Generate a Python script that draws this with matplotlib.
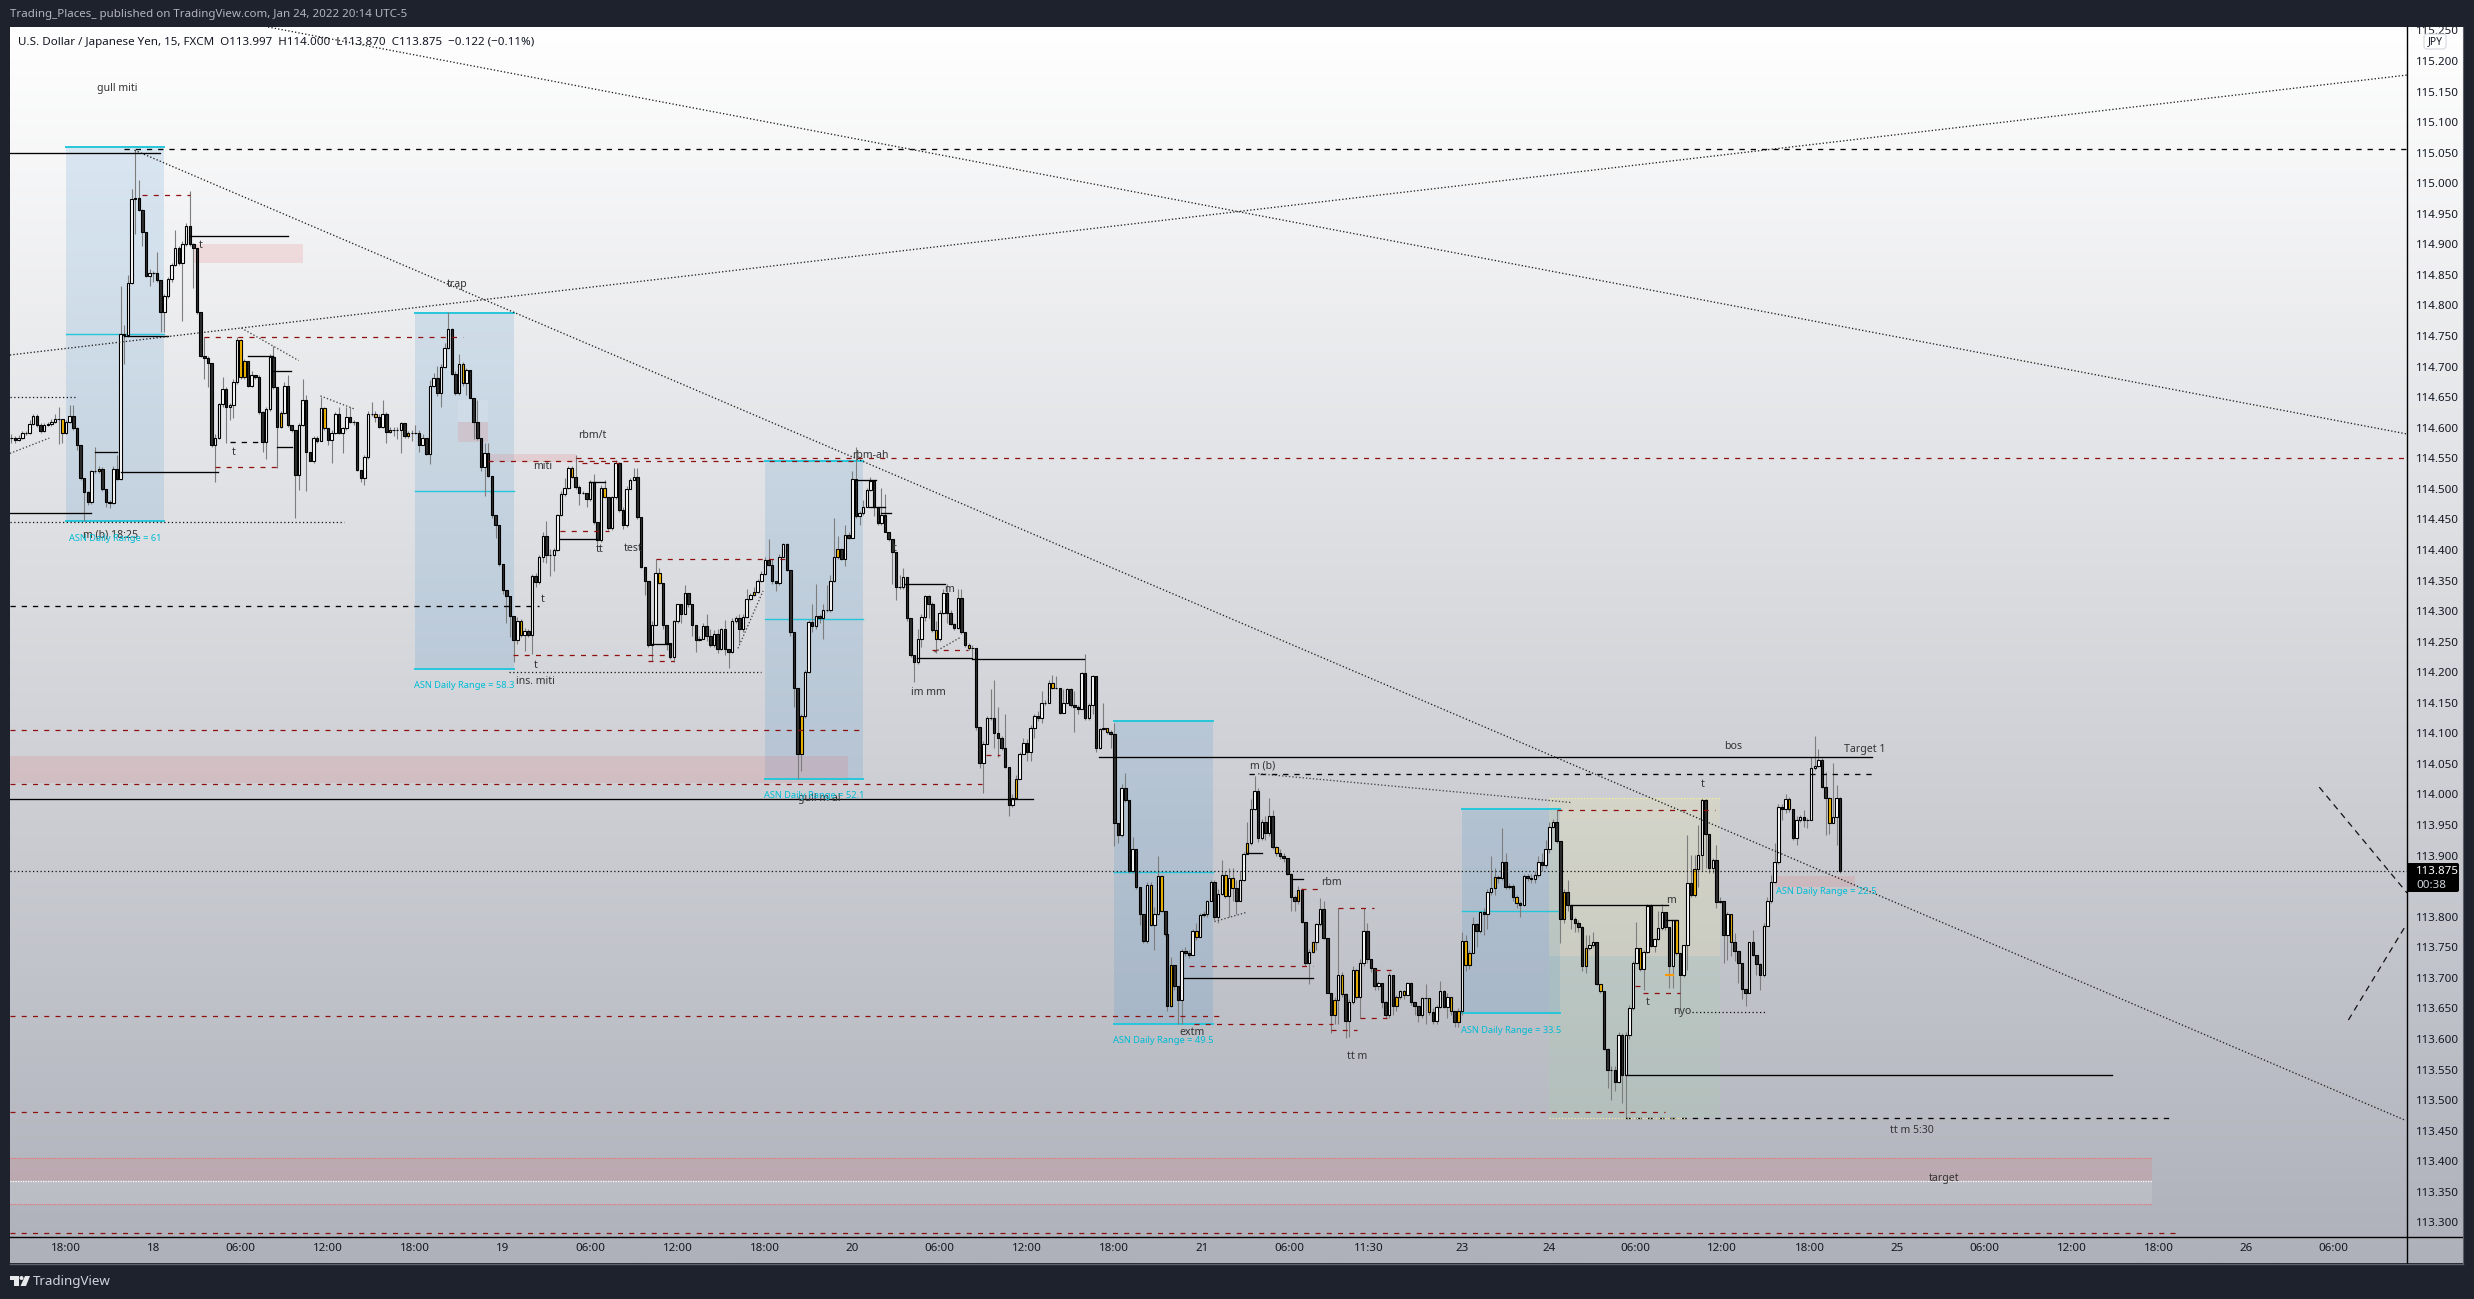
import numpy as np
import matplotlib
matplotlib.use("Agg")
import matplotlib.pyplot as plt
from matplotlib.patches import Rectangle, FancyBboxPatch, Polygon, Circle
from matplotlib.lines import Line2D
from matplotlib.transforms import Affine2D

plt.rcParams['font.family'] = ['Noto Sans', 'DejaVu Sans']
W, H = 2474, 1299

# ------------------ candles, 15-minute bars ------------------
start_a = -15
closes_a = [114.584,114.580,114.584,114.591,114.591,114.606,114.619,114.605,114.594,114.605,
 114.606,114.610,114.615,114.615,114.592,114.609,114.620,114.600,114.572,114.517,
 114.495,114.479,114.530,114.530,114.533,114.499,114.479,114.477,114.533,114.516,
 114.754,114.751,114.837,114.974,114.976,114.957,114.920,114.849,114.853,114.853,
 114.841,114.790,114.815,114.844,114.866,114.894,114.870,114.901,114.930,114.901,
 114.894,114.789,114.717,114.714,114.706,114.571,114.584,114.638,114.663,114.634,
 114.637,114.675,114.743,114.683,114.709,114.668,114.687,114.683,114.626,114.576,
 114.630,114.715,114.666,114.602,114.624,114.669,114.605,114.596,114.523,114.605,
 114.645,114.561,114.546,114.584,114.579,114.632,114.599,114.580,114.592,114.623,
 114.592,114.599,114.617,114.610,114.610,114.531,114.518,114.552,114.623,114.623,
 114.618,114.602,114.622,114.593,114.597,114.597,114.597,114.607,114.586,114.591,
 114.591,114.592,114.572,114.584,114.557,114.669,114.682,114.657,114.700,114.730,
 114.762,114.688,114.657,114.705,114.673,114.694,114.649,114.610,114.584,114.536,
 114.558,114.521,114.457,114.441]
highs_a = [114.590,114.586,114.588,114.594,114.594,114.613,114.622,114.622,114.607,114.607,
 114.609,114.615,114.622,114.634,114.613,114.613,114.637,114.637,114.602,114.572,
 114.517,114.496,114.531,114.569,114.537,114.535,114.499,114.482,114.537,114.555,
 114.832,114.768,114.850,114.990,115.054,115.005,114.958,114.920,114.859,114.856,
 114.888,114.841,114.818,114.847,114.870,114.923,114.897,114.905,114.935,114.987,
 114.902,114.894,114.789,114.748,114.718,114.706,114.590,114.640,114.683,114.666,
 114.640,114.680,114.748,114.745,114.712,114.709,114.692,114.687,114.686,114.628,
 114.634,114.721,114.733,114.666,114.628,114.675,114.686,114.605,114.596,114.607,
 114.680,114.654,114.561,114.587,114.587,114.651,114.634,114.599,114.596,114.625,
 114.634,114.602,114.634,114.634,114.613,114.610,114.531,114.555,114.628,114.642,
 114.628,114.622,114.645,114.625,114.602,114.602,114.602,114.610,114.607,114.594,
 114.596,114.605,114.596,114.590,114.584,114.678,114.689,114.701,114.704,114.739,
 114.789,114.763,114.692,114.721,114.707,114.698,114.695,114.649,114.646,114.584,
 114.575,114.575,114.521,114.457]
lows_a = [114.575,114.575,114.578,114.582,114.588,114.590,114.605,114.602,114.592,114.593,
 114.603,114.603,114.607,114.574,114.575,114.590,114.607,114.596,114.564,114.514,
 114.448,114.473,114.476,114.526,114.526,114.496,114.471,114.469,114.476,114.514,
 114.514,114.704,114.749,114.835,114.917,114.955,114.897,114.847,114.832,114.838,
 114.838,114.756,114.756,114.812,114.838,114.865,114.867,114.774,114.897,114.897,
 114.829,114.786,114.715,114.680,114.666,114.569,114.512,114.581,114.634,114.575,
 114.613,114.616,114.672,114.680,114.680,114.666,114.666,114.680,114.622,114.561,
 114.549,114.628,114.663,114.534,114.599,114.622,114.602,114.593,114.452,114.498,
 114.603,114.496,114.545,114.543,114.575,114.578,114.596,114.572,114.543,114.590,
 114.590,114.558,114.596,114.607,114.605,114.529,114.511,114.506,114.549,114.619,
 114.610,114.599,114.599,114.575,114.591,114.587,114.581,114.558,114.584,114.584,
 114.578,114.590,114.561,114.571,114.555,114.540,114.666,114.652,114.634,114.698,
 114.728,114.686,114.654,114.654,114.669,114.654,114.648,114.581,114.580,114.529,
 114.488,114.520,114.452,114.420]
yellow_a = [14,24,31,63,64,74,86,100,104,109,124]

start_b = 119
closes_b = [114.377,114.334,114.324,114.292,114.252,114.284,114.261,114.268,114.261,114.357,
 114.348,114.389,114.423,114.391,114.392,114.400,114.457,114.492,114.502,114.534,
 114.520,114.503,114.494,114.494,114.483,114.512,114.445,114.416,114.502,114.486,
 114.436,114.486,114.542,114.465]
highs_b = [114.441,114.377,114.334,114.325,114.292,114.290,114.287,114.272,114.270,114.360,
 114.363,114.392,114.429,114.448,114.401,114.404,114.459,114.497,114.518,114.538,
 114.538,114.556,114.506,114.497,114.494,114.515,114.524,114.445,114.507,114.515,
 114.486,114.489,114.547,114.544]
lows_b = [114.374,114.328,114.281,114.258,114.217,114.246,114.258,114.234,114.258,114.230,
 114.340,114.345,114.381,114.378,114.357,114.366,114.398,114.455,114.489,114.500,
 114.518,114.500,114.474,114.491,114.471,114.480,114.442,114.410,114.413,114.485,
 114.433,114.433,114.483,114.462]
yellow_b = [6,20,29]

start_c = 153
closes_c = [114.441,114.500,114.514,114.519,114.454,114.372,114.349,114.245,114.278,114.363,
 114.346,114.278,114.248,114.225,114.283,114.311,114.296,114.330,114.312,114.277,
 114.253,114.255,114.276,114.260,114.245,114.263,114.238,114.270,114.238,114.233,
 114.284,114.289,114.271,114.290,114.319,114.327,114.332,114.350,114.360,114.383,
 114.375,114.350,114.346,114.389,114.409,114.368,114.266,114.175,114.067,114.128,
 114.200,114.282,114.276,114.292,114.288,114.301,114.301,114.349,114.388,114.401,
 114.385,114.425,114.420,114.516,114.456,114.461,114.471,114.498,114.513,114.471,
 114.444,114.458,114.430,114.418,114.397,114.339,114.339,114.355,114.289,114.228,
 114.216,114.254,114.290,114.324,114.312,114.269,114.254,114.297,114.330,114.297,
 114.279,114.273,114.321,114.266,114.245,114.240,114.239,114.111,114.052,114.083,
 114.125,114.125,114.101,114.093,114.076,114.045,113.982,113.995,114.026,114.066,
 114.084,114.070,114.108,114.128,114.125,114.150,114.150,114.183,114.175,114.175,
 114.134,114.149,114.173,114.146,114.143,114.140,114.198,114.125,114.146,114.194,
 114.076,114.107,114.108,114.102,114.099,113.953,113.933,114.011,113.991,113.874,
 113.910,113.848,113.804,113.760,113.852,113.787,113.804,113.867,113.810,113.772]
highs_c = [114.470,114.505,114.517,114.534,114.534,114.454,114.372,114.349,114.283,114.385,
 114.371,114.346,114.277,114.248,114.286,114.312,114.312,114.342,114.330,114.312,
 114.277,114.259,114.280,114.295,114.271,114.269,114.271,114.273,114.286,114.238,
 114.289,114.292,114.295,114.295,114.336,114.330,114.339,114.353,114.365,114.388,
 114.418,114.385,114.350,114.394,114.412,114.412,114.368,114.266,114.175,114.131,
 114.204,114.286,114.312,114.345,114.295,114.312,114.342,114.359,114.453,114.423,
 114.403,114.441,114.429,114.529,114.569,114.464,114.482,114.502,114.520,114.513,
 114.471,114.502,114.491,114.430,114.418,114.397,114.359,114.371,114.355,114.289,
 114.228,114.271,114.295,114.327,114.327,114.315,114.283,114.301,114.336,114.345,
 114.301,114.280,114.336,114.336,114.266,114.248,114.245,114.238,114.111,114.087,
 114.128,114.172,114.187,114.143,114.096,114.131,114.045,114.000,114.032,114.070,
 114.093,114.090,114.114,114.131,114.137,114.169,114.155,114.187,114.195,114.194,
 114.175,114.172,114.175,114.175,114.169,114.146,114.201,114.229,114.149,114.195,
 114.194,114.109,114.149,114.109,114.105,114.117,113.953,114.017,114.035,113.991,
 113.930,113.910,113.848,113.804,113.857,113.857,113.816,113.899,113.868,113.810]
lows_c = [114.435,114.438,114.499,114.514,114.450,114.371,114.327,114.242,114.219,114.277,
 114.345,114.271,114.236,114.222,114.216,114.280,114.280,114.295,114.307,114.260,
 114.233,114.251,114.254,114.251,114.242,114.242,114.231,114.236,114.228,114.207,
 114.231,114.280,114.248,114.266,114.289,114.318,114.325,114.330,114.347,114.359,
 114.374,114.345,114.333,114.342,114.388,114.365,114.260,114.143,114.026,114.038,
 114.125,114.198,114.266,114.271,114.280,114.254,114.298,114.299,114.347,114.385,
 114.383,114.374,114.418,114.420,114.453,114.441,114.458,114.470,114.496,114.456,
 114.441,114.441,114.429,114.415,114.345,114.318,114.336,114.336,114.283,114.225,
 114.184,114.213,114.242,114.283,114.289,114.266,114.231,114.251,114.295,114.280,
 114.277,114.269,114.271,114.263,114.242,114.236,114.225,114.105,114.044,114.003,
 114.082,114.122,114.076,114.061,114.073,114.044,113.965,113.979,113.994,114.025,
 114.067,114.055,114.055,114.093,114.120,114.117,114.146,114.149,114.172,114.173,
 114.131,114.134,114.149,114.143,114.102,114.131,114.140,114.122,114.122,114.131,
 114.070,114.074,114.105,114.099,114.076,113.915,113.921,113.930,113.988,113.871,
 113.871,113.845,113.787,113.757,113.757,113.785,113.745,113.803,113.807,113.769]
yellow_c = [10,36,49,59,86,95,108,118,133,145,148]

start_d = 302.5
closes_d = [113.654,113.721,113.686,113.663,113.744,113.740,113.737,113.776,113.767,113.802,
 113.804,113.825,113.856,113.800,113.837,113.869,113.834,113.863,113.847,113.825,
 113.860,113.902,113.920,113.976,114.006,113.928,113.955,113.937,113.965,113.914,
 113.904,113.899,113.896,113.870,113.833,113.826,113.844,113.792,113.724,113.743,
 113.758,113.788,113.813,113.765,113.676,113.640,113.663,113.705,113.674,113.630,
 113.661,113.713,113.669,113.725,113.777,113.730,113.716,113.686,113.691,113.661,
 113.640,113.705,113.654,113.669,113.679,113.672,113.691,113.661,113.654,113.640,
 113.667,113.667,113.644,113.630,113.653,113.679,113.653,113.668,113.645,113.628,
 113.645,113.761,113.721,113.741,113.788,113.776,113.807,113.805,113.840,113.847,
 113.865,113.863,113.890,113.849,113.851,113.833,113.822,113.819,113.866,113.863,
 113.862,113.869,113.890,113.885,113.910,113.947,113.955,113.924,113.796,113.841,
 113.819,113.797,113.790,113.783,113.719,113.748,113.753,113.758,113.690,113.678,
 113.584,113.549,113.550,113.529,113.607,113.541,113.606,113.650,113.724]
highs_d = [113.772,113.734,113.720,113.686,113.747,113.750,113.745,113.780,113.790,113.806,
 113.810,113.827,113.860,113.860,113.845,113.893,113.875,113.880,113.880,113.860,
 113.875,113.906,113.955,113.993,114.031,114.010,113.960,113.965,113.995,113.975,
 113.915,113.910,113.905,113.896,113.872,113.835,113.850,113.847,113.792,113.747,
 113.760,113.790,113.830,113.825,113.765,113.676,113.668,113.815,113.710,113.675,
 113.665,113.720,113.715,113.730,113.815,113.790,113.730,113.716,113.695,113.690,
 113.662,113.710,113.705,113.672,113.680,113.680,113.693,113.693,113.661,113.654,
 113.669,113.690,113.667,113.650,113.655,113.695,113.680,113.675,113.668,113.645,
 113.650,113.775,113.770,113.745,113.800,113.790,113.810,113.815,113.845,113.900,
 113.880,113.868,113.945,113.905,113.855,113.853,113.835,113.825,113.870,113.870,
 113.870,113.875,113.900,113.905,113.925,113.955,113.960,113.975,113.924,113.845,
 113.860,113.820,113.800,113.795,113.785,113.770,113.770,113.775,113.758,113.690,
 113.678,113.585,113.555,113.555,113.612,113.610,113.612,113.655,113.727]
lows_d = [113.645,113.653,113.680,113.625,113.625,113.735,113.733,113.737,113.762,113.767,
 113.800,113.800,113.825,113.795,113.790,113.835,113.830,113.800,113.825,113.805,
 113.825,113.858,113.902,113.918,113.975,113.922,113.925,113.925,113.932,113.910,
 113.900,113.895,113.890,113.868,113.810,113.810,113.820,113.790,113.720,113.690,
 113.740,113.745,113.785,113.763,113.675,113.610,113.625,113.625,113.668,113.602,
 113.603,113.658,113.665,113.635,113.720,113.725,113.710,113.680,113.680,113.650,
 113.635,113.635,113.640,113.645,113.665,113.665,113.672,113.655,113.640,113.627,
 113.635,113.625,113.640,113.625,113.625,113.650,113.650,113.635,113.640,113.620,
 113.620,113.640,113.712,113.715,113.740,113.750,113.773,113.770,113.780,113.835,
 113.835,113.855,113.860,113.845,113.845,113.825,113.815,113.800,113.818,113.858,
 113.855,113.855,113.865,113.875,113.880,113.905,113.945,113.920,113.757,113.790,
 113.810,113.780,113.775,113.775,113.712,113.708,113.745,113.750,113.688,113.675,
 113.582,113.520,113.500,113.515,113.528,113.495,113.470,113.600,113.648]
yellow_d = [1,8,16,18,22,30,36,40,46,48,52,63,65,72,78,80,82,83,90,96,109,115,119]

start_e = 431.4
closes_e = [113.748,113.714,113.743,113.818,113.752,113.763,113.781,113.807,113.783,113.720,
 113.794,113.740,113.705,113.753,113.855,113.836,113.878,113.901,113.991,113.936,
 113.879,113.893,113.824,113.825,113.770,113.804,113.758,113.744,113.725,113.681,
 113.676,113.758,113.737,113.722,113.705,113.785,113.825,113.856,113.890,113.980,
 113.976,113.992,113.976,113.928,113.959,113.963,113.959,113.959,114.043,114.047,
 114.057,114.013,113.994,113.954,113.963,113.995,113.875]
highs_e = [113.792,113.748,113.745,113.820,113.820,113.765,113.810,113.820,113.807,113.783,
 113.795,113.794,113.740,113.754,113.934,113.901,113.901,113.950,113.994,113.994,
 113.936,113.896,113.917,113.833,113.825,113.808,113.805,113.773,113.744,113.725,
 113.681,113.759,113.778,113.737,113.724,113.789,113.833,113.868,113.920,113.985,
 113.985,114.000,113.996,113.976,113.964,113.966,113.975,113.961,114.062,114.095,
 114.075,114.059,114.037,113.996,114.051,114.015,113.996]
lows_e = [113.724,113.712,113.680,113.740,113.750,113.743,113.762,113.778,113.778,113.683,
 113.683,113.737,113.650,113.702,113.713,113.833,113.833,113.849,113.874,113.879,
 113.871,113.871,113.814,113.822,113.724,113.729,113.735,113.727,113.691,113.666,
 113.654,113.675,113.735,113.705,113.680,113.702,113.784,113.822,113.855,113.887,
 113.958,113.969,113.972,113.925,113.917,113.955,113.947,113.945,113.958,114.040,
 114.045,114.010,113.934,113.936,113.953,113.917,113.872]
yellow_e = [1,11,16,26,42,53]

# ------------------ axes labels ------------------
tick_bars = [0,24,48,72,96,120,144,168,192,216,240,264,288,312,336,358,383.5,407.5,431,455,479,503,527,551,575,599,623]
tick_names = ['18:00','18','06:00','12:00','18:00','19','06:00','12:00','18:00','20','06:00','12:00','18:00','21',
              '06:00','11:30','23','24','06:00','12:00','18:00','25','06:00','12:00','18:00','26','06:00']
price_ticks = [113.30,113.35,113.40,113.45,113.50,113.55,113.60,113.65,113.70,113.75,113.80,113.85,113.90,113.95,
               114.00,114.05,114.10,114.15,114.20,114.25,114.30,114.35,114.40,114.45,114.50,114.55,114.60,114.65,
               114.70,114.75,114.80,114.85,114.90,114.95,115.00,115.05,115.10,115.15,115.20,115.25]
bar_min, bar_max = -15.38, 643.1
price_min, price_max = 113.276, 115.2556

# ------------------ drawings on the chart ------------------
# (first bar, last bar, top, middle, bottom, label, label price)
asn_boxes = [(0,27,115.060,114.753,114.448,'ASN Daily Range = 61',114.418),
             (96,123,114.787,114.496,114.205,'ASN Daily Range = 58.3',114.178),
             (192,219,114.546,114.287,114.026,'ASN Daily Range = 52.1',113.999),
             (288,315,114.120,113.873,113.625,'ASN Daily Range = 49.5',113.597),
             (383.5,410.5,113.977,113.809,113.642,'ASN Daily Range = 33.5',113.614)]
asn_last = ('ASN Daily Range = 22.5',483.5,113.841)
# (first bar, last bar, top, bottom)
pink_zones = [(35,65,114.900,114.870),(116.4,140,114.557,114.544),(107.7,115.8,114.609,114.576),
              (-15.4,214.9,114.063,114.019),(-15.4,573,113.405,113.367),(469.5,491.5,113.867,113.848)]
light_zones = [(-15.4,573,113.367,113.330),(107.7,115.8,114.645,114.609)]
beige_zone = (407.5,454.4,113.995,113.735)
green_zone = (407.5,454.4,113.735,113.470)
# (price, first bar, last bar)
black_solid = [(115.049,-15.4,25.9),(114.913,34.2,60.9),(114.528,15,41.8),(114.750,16,28),(114.460,-15.4,6.8),
               (114.560,8,14),(114.717,50,57),(114.692,56.8,61.7),(114.569,58,62),(113.992,-15.4,265.6),
               (114.062,283.7,496),(113.541,428.5,562),(114.344,230.5,241.5),(114.224,233.7,249),
               (114.221,248.9,279.6),(114.246,160.7,166.3),(114.514,216.9,222.6),(114.460,224,226.7),
               (114.470,220.7,225),(114.418,135.7,146),(114.511,143.8,148),(113.819,413.6,440.2),
               (113.794,439.5,442.5),(113.699,307,342.5),(113.904,324.4,328.6),(113.861,336.7,339.7)]
black_dashed = [(115.056,16,643.1),(114.309,-15.4,129.9),(114.033,325,496.2),(113.470,428.3,578),(114.576,45,53.6)]
red_dashed = [(114.105,-15.4,219),(114.017,-15.4,251.7),(114.551,140,643.1),(114.545,116,217),
              (113.638,-15.4,317.5),(113.624,310,348),(113.480,-15.4,439.4),(113.282,-15.4,581),
              (114.981,21,34.2),(114.749,37.8,109),(114.536,41,58),(114.385,162,198.7),(114.228,122.8,164.7),
              (114.219,159.8,166.9),(114.237,238,247.8),(114.064,252.7,256.6),(114.542,141.8,152),
              (114.431,135.7,149.2),(113.974,409.5,453),(113.676,433.3,443.4),(113.686,431,432.6),
              (113.719,308.5,342.7),(113.845,339.4,344),(113.815,349.5,359.3),(113.615,347.4,354.7),
              (113.635,355.4,362.8),(113.713,359.5,364)]
black_dotted = [(114.651,-15.4,3),(114.445,-15.4,76.4),(113.875,-15.4,643.1),(114.200,121.8,190.8),(113.644,446.6,467.2)]
white_dotted = [(113.367,-15.4,573)]
coral_dotted = [(113.405,-15.4,573),(113.330,-15.4,573)]
yellow_dotted = [(113.995,407.5,454.4),(113.470,407.5,445)]
orange_solid = [(113.705,439.5,441.5)]
# (bar, price, bar, price)
long_trends = [(55.5,115.2556,642.9,114.590),(18.8,115.054,642.6,113.467),(-15.4,114.719,643.1,115.177)]
short_trends = [(48.2,114.763,63.9,114.710),(69.9,114.652,79.5,114.630),(-15.4,114.558,-4.6,114.583),
                (184.6,114.239,191.5,114.333),(238.6,114.233,245.7,114.257),(315.5,113.792,324.2,113.807),
                (327.5,114.034,413.3,113.987)]
right_dashes = [(619,114.012,643.1,113.839),(627,113.631,642.9,113.787)]
# (text, bar, price)
notes = [('gull miti',14.1,115.155),('t',37,114.898),('trap',107.4,114.835),('rbm/t',144.6,114.587),
         ('miti',131,114.536),('m (b) 18:25',12.3,114.425),('t',46,114.559),('tt',146.5,114.401),
         ('t',130.9,114.319),('t',129,114.211),('ins. miti',129,114.184),('test',155.8,114.403),
         ('rbm-ah',221,114.554),('m',242.6,114.336),('im mm',236.8,114.167),('gull m al',207,113.993),
         ('t',227.8,114.403),('m (b)',328.6,114.047),('rbm',347.6,113.856),('extm',309.3,113.611),
         ('tt m',354.8,113.571),('m',441,113.826),('t',434.4,113.659),('nyo',444,113.645),
         ('t',449.5,114.017),('bos',458,114.079),('Target 1',494.2,114.074),('tt m 5:30',507,113.451),
         ('target',516,113.371)]

# ------------------ assemble the bars ------------------
segments = [(start_a,closes_a,highs_a,lows_a,yellow_a),(start_b,closes_b,highs_b,lows_b,yellow_b),
            (start_c,closes_c,highs_c,lows_c,yellow_c),(start_d,closes_d,highs_d,lows_d,yellow_d),
            (start_e,closes_e,highs_e,lows_e,yellow_e)]
bars, closes, highs, lows, is_yellow = [], [], [], [], []
for s, c, h, l, y in segments:
    n = min(len(c), len(h), len(l))
    bars += [s + k for k in range(n)]
    closes += c[:n]; highs += h[:n]; lows += l[:n]
    is_yellow += [k in y for k in range(n)]
bars = np.array(bars, float); closes = np.array(closes)
opens = np.r_[closes[0], closes[:-1]]
highs = np.maximum(np.array(highs), np.maximum(opens, closes))
lows = np.minimum(np.array(lows), np.minimum(opens, closes))
is_yellow = np.array(is_yellow)
up = closes >= opens

# ------------------ figure ------------------
DARK = '#1e222d'
fig = plt.figure(figsize=(W/100, H/100), dpi=100, facecolor=DARK)
pix = Affine2D().scale(1, -1).translate(0, H)

bg = fig.add_axes([10/W, 1-1263/H, 2453/W, 1236/H], zorder=-1)
top_c, bot_c = np.array([255,255,255.]), np.array([174,177,186.])
t = np.linspace(0, 1, 400)[:, None, None]
bg.imshow((top_c*(1-t)+bot_c*t)/255, aspect='auto', interpolation='bilinear')
bg.axis('off')

ax = fig.add_axes([10/W, 1-1237/H, 2397/W, 1210/H], zorder=1)
ax.patch.set_visible(False)
ax.set_xlim(bar_min, bar_max); ax.set_ylim(price_min, price_max)
for sp in ax.spines.values():
    sp.set_visible(False)
ax.yaxis.tick_right()
ax.set_yticks(price_ticks, [f'{v:.3f}' for v in price_ticks])
ax.set_xticks(tick_bars, tick_names)
ax.tick_params(axis='y', length=0, pad=6.5, labelsize=8.3, labelcolor='#131722')
ax.tick_params(axis='x', length=0, pad=4.5, labelsize=8.3, labelcolor='#131722')

def span(b0, b1, p_top, p_bot, color, alpha, z=1):
    ax.add_patch(Rectangle((b0, p_bot), b1-b0, p_top-p_bot, facecolor=color, edgecolor='none', alpha=alpha, zorder=z))

for b0, b1, p_top, p_mid, p_bot, label, label_p in asn_boxes:
    span(b0, b1, p_top, p_bot, '#2e86cb', 0.15)
    ax.plot([b0, b1], [p_top]*2, color='#26c6da', lw=1.4, zorder=2)
    ax.plot([b0, b1], [p_mid]*2, color='#26c6da', lw=1.0, zorder=2)
    ax.plot([b0, b1], [p_bot]*2, color='#26c6da', lw=1.4, zorder=2)
    ax.text((b0+b1)/2, label_p, label, color='#00bcd4', fontsize=6.7, ha='center', va='center', zorder=7)
ax.text(asn_last[1], asn_last[2], asn_last[0], color='#00bcd4', fontsize=6.7, ha='center', va='center', zorder=7)

for b0, b1, a, b in pink_zones:
    span(b0, b1, a, b, '#e57373', 0.18)
for b0, b1, a, b in light_zones:
    span(b0, b1, a, b, '#ffffff', 0.12)
span(beige_zone[0], beige_zone[1], beige_zone[2], beige_zone[3], '#f5f0a0', 0.20)
span(green_zone[0], green_zone[1], green_zone[2], green_zone[3], '#a5d6a7', 0.20)

ax.vlines(bars, lows, highs, color='#7d7d7d', lw=0.8, zorder=3)
bw = 0.68
for mask, face in [(up & ~is_yellow, '#ffffff'), (~up & ~is_yellow, '#2e2e2e'), (is_yellow, '#f2b600')]:
    ax.bar(bars[mask], (closes-opens)[mask], bottom=opens[mask], width=bw, facecolor=face,
           edgecolor='#000000', linewidth=0.8, zorder=4)

def levels(rows, color, ls, lw, z=5):
    for p, b0, b1 in rows:
        ax.plot([b0, b1], [p, p], color=color, ls=ls, lw=lw, zorder=z)

levels(black_solid, '#000000', '-', 0.95)
levels(black_dashed, '#000000', (0,(4,4.5)), 0.95)
levels(red_dashed, '#8f0f0f', (0,(4,5)), 0.9)
levels(black_dotted, '#111111', (0,(1,2)), 0.9)
levels(white_dotted, '#ffffff', (0,(1,1)), 0.9)
levels(coral_dotted, '#f07070', (0,(1,1)), 0.8)
levels(yellow_dotted, '#f3ef9a', (0,(1,1.5)), 0.9)
levels(orange_solid, '#ff9800', '-', 1.5)
for x0, y0, x1, y1 in long_trends:
    ax.plot([x0, x1], [y0, y1], color='#222222', ls=(0,(1,1.6)), lw=0.95, zorder=5)
for x0, y0, x1, y1 in short_trends:
    ax.plot([x0, x1], [y0, y1], color='#444444', ls=(0,(1,1.6)), lw=0.95, zorder=5)
for x0, y0, x1, y1 in right_dashes:
    ax.plot([x0, x1], [y0, y1], color='#111111', ls=(0,(5,4)), lw=0.9, zorder=5)
for s, b, p in notes:
    ax.text(b, p, s, color='#333333', fontsize=7.6, ha='center', va='center', zorder=6)

# ------------------ chart frame and header ------------------
fig.add_artist(Rectangle((0, 0), W, 27, transform=pix, facecolor=DARK, edgecolor='none', zorder=5))
fig.add_artist(Line2D([2407, 2407], [27, 1263], transform=pix, color='#000000', lw=1.0, zorder=6))
fig.add_artist(Line2D([10, 2463], [1237, 1237], transform=pix, color='#000000', lw=1.0, zorder=6))
fig.add_artist(Line2D([10, 2463], [1263.5, 1263.5], transform=pix, color='#5d606b', lw=1.0, zorder=6))
fig.add_artist(Line2D([2463, 2463], [27, 1263], transform=pix, color='#5d606b', lw=0.8, zorder=6))

def chrome(x, y, s, **kw):
    t = fig.text(0, 0, s, va='center', zorder=8, **kw)
    t.set_transform(pix); t.set_position((x, y))
    return t

chrome(10, 15, 'Trading_Places_ published on TradingView.com, Jan 24, 2022 20:14 UTC-5', color='#b2b5be', fontsize=8.3)
chrome(18, 42, 'U.S. Dollar / Japanese Yen, 15, FXCM  O113.997  H114.000  L113.870  C113.875  −0.122 (−0.11%)',
       color='#131722', fontsize=8.35)

fig.add_artist(FancyBboxPatch((2424, 34), 22, 15, boxstyle='round,pad=0,rounding_size=3', transform=pix,
                              facecolor='#ffffff', edgecolor='#d6d8de', lw=0.8, zorder=7))
chrome(2435, 42, 'JPY', color='#131722', fontsize=7.4, ha='center')

fig.add_artist(FancyBboxPatch((2407, 863), 52, 29, boxstyle='round,pad=0,rounding_size=2', transform=pix,
                              facecolor='#000000', edgecolor='none', zorder=7))
chrome(2416, 872, '113.875', color='#ffffff', fontsize=8.3, fontweight='bold')
chrome(2416, 885, '00:38', color='#d1d4dc', fontsize=8.3)

# footer mark
logo = '#e8e9ec'
fig.add_artist(Polygon([(10,1276),(19,1276),(19,1286),(14,1286),(14,1280),(10,1280)], transform=pix, facecolor=logo, edgecolor='none', zorder=7))
fig.add_artist(Circle((21.5,1278), 2, transform=pix, facecolor=logo, edgecolor='none', zorder=7))
fig.add_artist(Polygon([(25,1276),(30,1276),(26,1286),(20.5,1286)], transform=pix, facecolor=logo, edgecolor='none', zorder=7))
chrome(33, 1281, 'TradingView', color='#d1d4dc', fontsize=9.6)

fig.savefig('out.png', dpi=100, facecolor=DARK)
